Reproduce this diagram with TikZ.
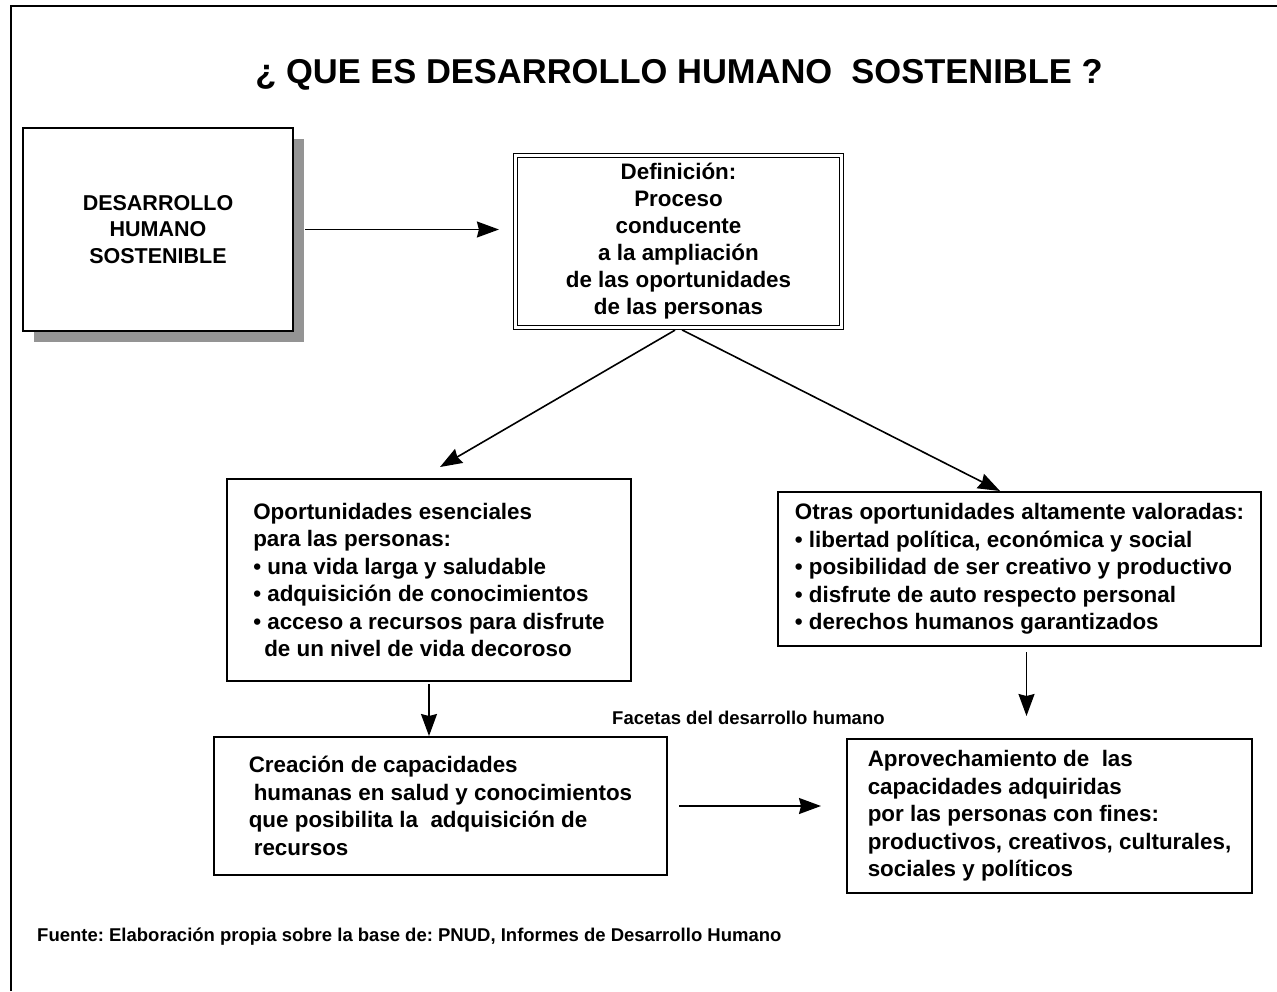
\documentclass[tikz,border=0pt]{standalone}
\usepackage{fontspec}
\setmainfont{Liberation Sans}
\usetikzlibrary{arrows.meta,positioning,shadows}
\frenchspacing
\tikzset{
    %Define standard arrow tip
    >={Stealth[length=22pt,width=16pt,inset=2pt]},
    %Define style for boxes
    caja/.style={
           rectangle,
           draw=black, line width=2pt,
           fill=white,
           inner sep=0pt,
           font=\bfseries\fontsize{22.4}{27.5}\selectfont,
           align=left},
    sombra/.style={
           caja,
           align=center,
           font=\bfseries\fontsize{21.5}{26.5}\selectfont,
           drop shadow={shadow xshift=11pt, shadow yshift=-11pt,
                        fill=black!42, opacity=1}},
    doble/.style={
           caja,
           align=center,
           line width=1.2pt,
           double, double distance=2.5pt,
           font=\bfseries\fontsize{22.4}{27}\selectfont},
    nota/.style={
           font=\bfseries\fontsize{18.5}{22}\selectfont,
           anchor=west, inner sep=0pt},
    % Define arrow style
    pil/.style={
           ->,
           line width=1.6pt}
}
\begin{document}
\begin{tikzpicture}[x=1pt,y=-1pt]
\useasboundingbox (0,0) rectangle (1277,991);
\draw[line width=2.5pt] (11,991) -- (11,6) -- (1277,6);

\node[font=\bfseries\fontsize{34.5}{40}\selectfont](titulo) at (679,75)
    {¿ QUE ES DESARROLLO HUMANO\ \ SOSTENIBLE ?};

\node[sombra, minimum width=270, minimum height=203](dhs) at (158,229.5)
    {DESARROLLO\\HUMANO\\SOSTENIBLE};
\node[doble, minimum width=326, minimum height=172](definicion) at (678.5,241.5)
    {Definición:\\Proceso\\conducente\\a la ampliación\\de las oportunidades\\de las personas};

\node[caja, minimum width=404, minimum height=202](esenciales) at (429,580)
    {Oportunidades esenciales\\para las personas:\\• una vida larga y saludable\\
     • adquisición de conocimientos\\• acceso a recursos para disfrute\\
     \hspace*{11pt}de un nivel de vida decoroso};
\node[caja, minimum width=483, minimum height=154](otras) at (1019.5,569)
    {Otras oportunidades altamente valoradas:\\• libertad política, económica y social\\
     • posibilidad de ser creativo y productivo\\• disfrute de auto respecto personal\\
     • derechos humanos garantizados};

\node[caja, minimum width=453, minimum height=138](creacion) at (440.5,806)
    {Creación de capacidades\\\hspace*{5pt}humanas en salud y conocimientos\\
     que posibilita la\ \ adquisición de\\\hspace*{5pt}recursos};
\node[caja, minimum width=405, minimum height=154](aprovechamiento) at (1049.5,816)
    {Aprovechamiento de\ \ las\\capacidades adquiridas\\por las personas con fines:\\
     productivos, creativos, culturales,\\sociales y políticos};

\node[nota](facetas) at (612,718) {Facetas del desarrollo humano};
\node[nota](fuente) at (37,937)
    {Fuente: Elaboración propia sobre la base de: PNUD, Informes de Desarrollo Humano};

\draw[pil, shorten <=11pt, shorten >=16pt] (dhs.east) -- (dhs.east -| definicion.west);
\draw[pil, shorten <=4pt] (definicion.south) -- ([xshift=11pt,yshift=11pt]esenciales.north);
\draw[pil, shorten <=4pt] (definicion.south) -- ([xshift=-19.5pt]otras.north);
\draw[pil, shorten <=2pt] (esenciales.south) -- (esenciales.south |- creacion.north);
\draw[pil, shorten <=5pt, shorten >=22pt] ([xshift=7pt]otras.south) -- ([xshift=7pt]otras.south |- aprovechamiento.north);
\draw[pil, shorten <=11pt, shorten >=25pt] (creacion.east) -- (creacion.east -| aprovechamiento.west);
\end{tikzpicture}
\end{document}
